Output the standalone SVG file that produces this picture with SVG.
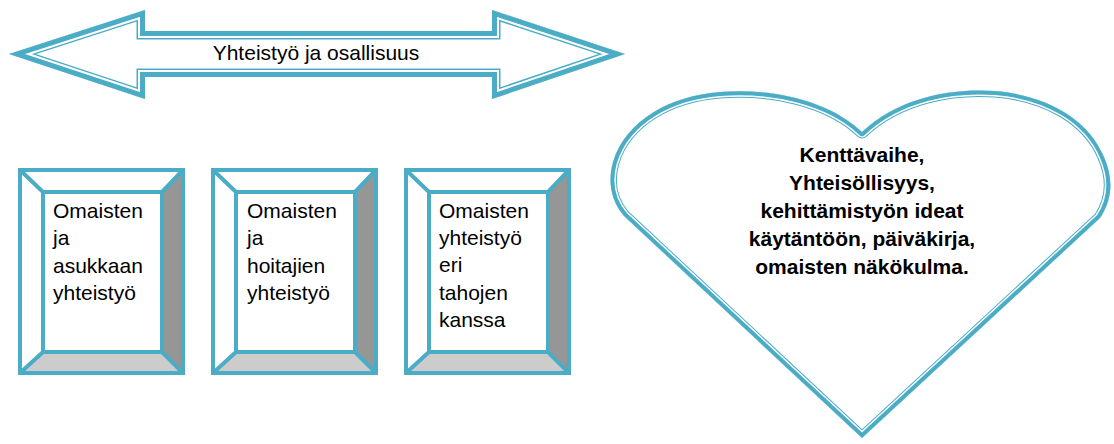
<svg xmlns="http://www.w3.org/2000/svg" width="1114" height="444" viewBox="0 0 1114 444">
<style>
.t{font-family:"Liberation Sans",Arial,sans-serif;font-size:21px;fill:#000}
.b{font-weight:bold;text-anchor:middle}
.edge{stroke:#4bacc6;stroke-width:4;stroke-linejoin:miter}
</style>
<defs>
<path id="arrowShape" d="M9,54 L145,10 L145,31 L492,31 L492,10 L625,54 L492,99 L492,77 L145,77 L145,99 Z"/>
<path id="heartShape" d="M862,132 C900,96 955,88 995,91 C1045,95 1088,118 1104,157 C1114,180 1112,200 1100,218 L862,438 L624,216 C610,200 608,180 613,162 C626,120 670,96 720,92 C770,88 828,100 862,132 Z"/>
<clipPath id="arrowClip"><use href="#arrowShape"/></clipPath>
<clipPath id="heartClip"><use href="#heartShape"/></clipPath>
<g id="box">
<rect x="0" y="0" width="163" height="203" fill="#ffffff"/>
<polygon points="163,0 142,22 142,182 163,203" fill="#969696"/>
<polygon points="0,203 23,182 142,182 163,203" fill="#cccccc"/>
<rect x="0" y="0" width="163" height="203" class="edge" fill="none"/>
<rect x="23" y="22" width="119" height="160" class="edge" fill="none"/>
<path d="M0,0 L23,22 M163,0 L142,22 M0,203 L23,182 M163,203 L142,182" class="edge"/>
</g>
</defs>

<g id="arrow">
<use href="#arrowShape" fill="#ffffff"/>
<g clip-path="url(#arrowClip)">
<use href="#arrowShape" fill="none" stroke="#4bacc6" stroke-width="17" stroke-linejoin="miter"/>
<use href="#arrowShape" fill="none" stroke="#ffffff" stroke-width="14" stroke-linejoin="miter"/>
<use href="#arrowShape" fill="none" stroke="#4bacc6" stroke-width="10" stroke-linejoin="miter"/>
</g>
<text x="316" y="60" class="t" text-anchor="middle">Yhteistyö ja osallisuus</text>
</g>

<g id="box1">
<use href="#box" x="20" y="170"/>
<text class="t" x="53" y="218">Omaisten</text>
<text class="t" x="53" y="245">ja</text>
<text class="t" x="53" y="273">asukkaan</text>
<text class="t" x="53" y="300">yhteistyö</text>
</g>

<g id="box2">
<use href="#box" x="213" y="170"/>
<text class="t" x="247" y="218">Omaisten</text>
<text class="t" x="247" y="245">ja</text>
<text class="t" x="247" y="273">hoitajien</text>
<text class="t" x="247" y="300">yhteistyö</text>
</g>

<g id="box3">
<use href="#box" x="406" y="170"/>
<text class="t" x="439" y="218">Omaisten</text>
<text class="t" x="439" y="245">yhteistyö</text>
<text class="t" x="439" y="272">eri</text>
<text class="t" x="439" y="300">tahojen</text>
<text class="t" x="439" y="327">kanssa</text>
</g>

<g id="heart">
<use href="#heartShape" fill="#ffffff"/>
<g clip-path="url(#heartClip)">
<use href="#heartShape" fill="none" stroke="#4bacc6" stroke-width="13" stroke-linejoin="round"/>
<use href="#heartShape" fill="none" stroke="#ffffff" stroke-width="11" stroke-linejoin="round"/>
<use href="#heartShape" fill="none" stroke="#4bacc6" stroke-width="8" stroke-linejoin="round"/>
</g>
<text class="t b" x="862" y="162">Kenttävaihe,</text>
<text class="t b" x="862" y="190">Yhteisöllisyys,</text>
<text class="t b" x="862" y="218">kehittämistyön ideat</text>
<text class="t b" x="862" y="246">käytäntöön, päiväkirja,</text>
<text class="t b" x="862" y="274">omaisten näkökulma.</text>
</g>
</svg>
